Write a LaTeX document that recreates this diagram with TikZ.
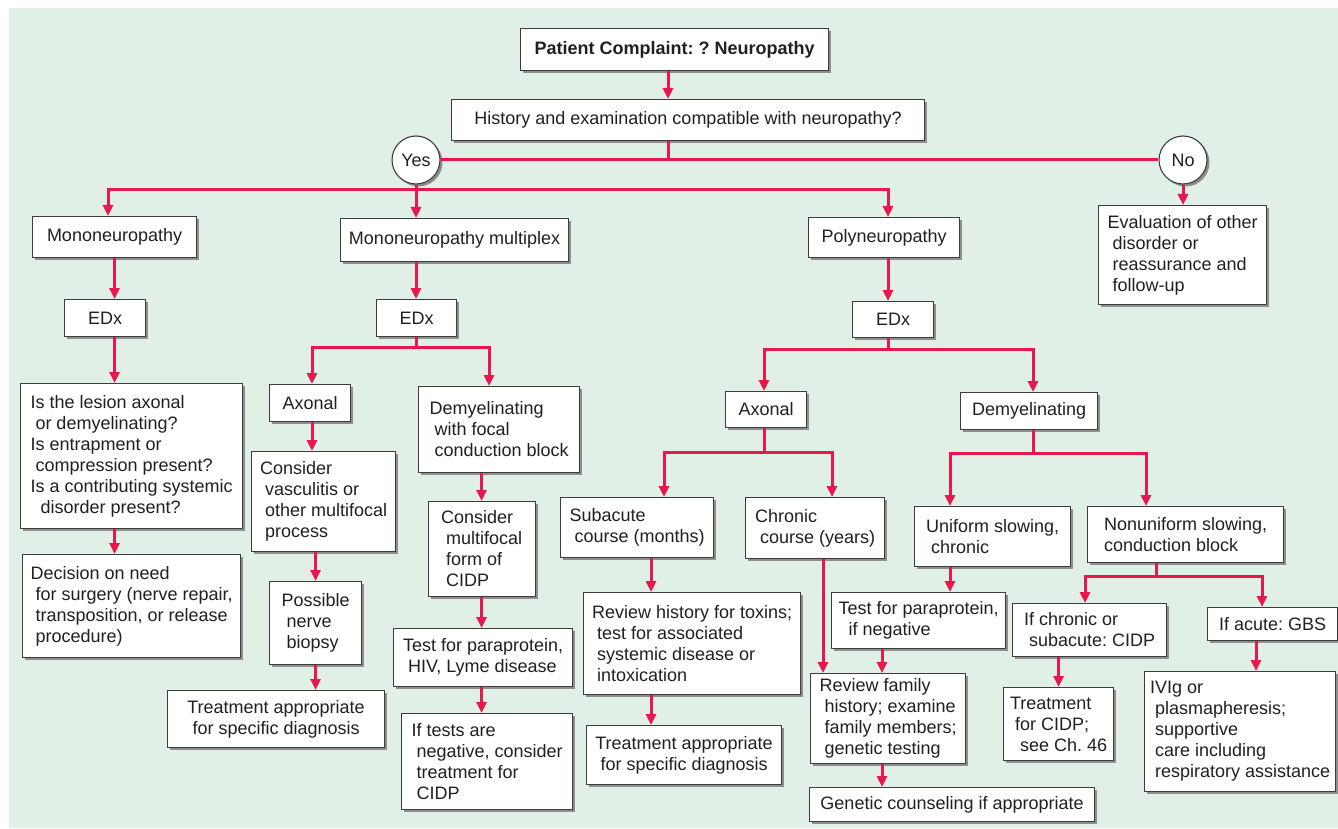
\documentclass[tikz,border=0pt]{standalone}
\usepackage{fontspec}
\setmainfont{Liberation Sans}
\usepackage{xcolor}
\definecolor{bgGreen}   {HTML}{E0F0E6}
\definecolor{linkRed}   {HTML}{E8174E}
\definecolor{boxLine}   {HTML}{3C3C3C}
\definecolor{shadowGray}{HTML}{8E8E8E}
\definecolor{inkDark}   {HTML}{231F20}
\usetikzlibrary{arrows.meta, positioning, calc, shadows}
\newcommand{\hg}{\hspace*{5pt}}
\frenchspacing
\tikzset{
    box/.style={draw=boxLine, fill=white, line width=1.1pt, anchor=north west,
                align=left, inner xsep=5pt, inner ysep=3pt, text=inkDark,
                font=\fontsize{18}{21}\selectfont,
                drop shadow={shadow xshift=2.5pt, shadow yshift=-2.5pt,
                             fill=shadowGray, opacity=1}},
    cbox/.style={box, align=center},
    wh/.style 2 args={minimum width=#1pt, minimum height=#2pt},
    answer/.style={circle, draw=boxLine, fill=white, line width=1.1pt,
                   minimum size=48pt, inner sep=0pt, text=inkDark,
                   font=\fontsize{18}{21}\selectfont,
                   drop shadow={shadow xshift=2.5pt, shadow yshift=-2.5pt,
                                fill=shadowGray, opacity=1}},
    wire/.style={draw=linkRed, line width=3pt},
    wirearr/.style={wire, ->, >={Triangle[length=11pt, width=10pt]}},
}

\begin{document}
\begin{tikzpicture}[x=1pt, y=-1pt]
    \useasboundingbox (0,0) rectangle (1338,829);
    \fill[bgGreen] (9,8) rectangle (1338,828);

    % top of the chart
    \node[cbox, wh={308}{42}, font=\fontsize{18}{21}\selectfont\bfseries] (top) at (520,28) {Patient Complaint: ? Neuropathy};
    \node[box, wh={473}{41}] (hist) at (451,99) {History and examination compatible with neuropathy?};
    \node[answer] (yes) at (416,160) {Yes};
    \node[answer] (no) at (1183,160) {No};
    \node[box, wh={168}{99}] (eval) at (1098,205) {Evaluation of other\\\hg disorder or\\\hg reassurance and\\\hg follow-up};

    % mononeuropathy
    \node[box, wh={164}{41}] (mono) at (32,216) {Mononeuropathy};
    \node[box, wh={81}{37}] (edxa) at (64,299) {EDx};
    \node[box, wh={222}{145}] (qa) at (20,383) {Is the lesion axonal\\\hg or demyelinating?\\Is entrapment or\\\hg compression present?\\Is a contributing systemic\\\hg\hg disorder present?};
    \node[box, wh={218}{103}] (deca) at (22,554) {Decision on need\\\hg for surgery (nerve repair,\\\hg transposition, or release\\\hg procedure)};

    % mononeuropathy multiplex
    \node[box, wh={228}{43}] (mult) at (340,218) {Mononeuropathy multiplex};
    \node[box, wh={80}{37}] (edxb) at (376,299) {EDx};
    \node[box, wh={81}{37}] (axb) at (269,384) {Axonal};
    \node[box, wh={144}{100}] (consb) at (251,451) {Consider\\\hg vasculitis or\\\hg other multifocal\\\hg process};
    \node[box, wh={92}{83}] (possb) at (269,581) {Possible\\\hg nerve\\\hg biopsy};
    \node[cbox, wh={217}{57}] (treatb) at (167,690) {Treatment appropriate\\for specific diagnosis};
    \node[box, wh={161}{86}] (demb) at (418,386) {Demyelinating\\\hg with focal\\\hg conduction block};
    \node[box, wh={107}{95}] (multb) at (427.5,501) {Consider\\\hg multifocal\\\hg form of\\\hg CIDP};
    \node[box, wh={179}{58}] (testb) at (393,628) {Test for paraprotein,\\\hg HIV, Lyme disease};
    \node[box, wh={171}{96}] (negb) at (401,713) {If tests are\\\hg negative, consider\\\hg treatment for\\\hg CIDP};

    % polyneuropathy
    \node[box, wh={151}{40}] (poly) at (808,217) {Polyneuropathy};
    \node[box, wh={81}{36}] (edxc) at (852,301) {EDx};
    \node[box, wh={81}{36}] (axc) at (725,391) {Axonal};
    \node[box, wh={137}{37}] (demc) at (960,392) {Demyelinating};
    \node[box, wh={153}{60}] (subc) at (560,497) {Subacute\\\hg course (months)};
    \node[box, wh={139}{61}] (chrc) at (745,497) {Chronic\\\hg course (years)};
    \node[box, wh={217}{102}] (revc) at (583,592) {Review history for toxins;\\\hg test for associated\\\hg systemic disease or\\\hg intoxication};
    \node[cbox, wh={195}{59}] (treatc) at (586,725) {Treatment appropriate\\for specific diagnosis};
    \node[box, wh={156}{60}] (unic) at (914,506) {Uniform slowing,\\\hg chronic};
    \node[box, wh={196}{56}] (nonc) at (1087,506) {Nonuniform slowing,\\conduction block};
    \node[box, wh={174}{56}] (testc) at (831,592) {Test for paraprotein,\\\hg\hg if negative};
    \node[box, wh={155}{90}] (famc) at (810,673) {Review family\\\hg history; examine\\\hg family members;\\\hg genetic testing};
    \node[box, wh={285}{34}] (genc) at (809,787) {Genetic counseling if appropriate};
    \node[box, wh={154}{53}] (chrd) at (1012,603) {If chronic or\\\hg subacute: CIDP};
    \node[box, wh={130}{33}] (acud) at (1207,607) {If acute: GBS};
    \node[box, wh={110}{73}] (cidpd) at (1003,687) {Treatment\\\hg for CIDP;\\\hg\hg see Ch. 46};
    \node[box, wh={191}{120}] (ivigd) at (1144,671) {IVIg or\\\hg plasmapheresis;\\\hg supportive\\\hg care including\\\hg respiratory assistance};

    % connectors: top
    \coordinate (k1) at (668,160);
    \draw[wirearr] (top.south -| k1) -- (hist.north -| k1);
    \draw[wire] (hist.south -| k1) -- (k1);
    \draw[wire] (yes) -- (no);
    \draw[wirearr] (no) -- (no |- eval.north);
    \coordinate (ya) at (108,190);
    \coordinate (yb) at (888,190);
    \draw[wirearr] (yes) -- (yes |- mult.north);
    \draw[wirearr] (ya -| yes) -- (ya) -- (ya |- mono.north);
    \draw[wirearr] (ya -| yes) -- (yb) -- (yb |- poly.north);

    % connectors: mononeuropathy
    \draw[wirearr] (mono) -- (mono |- edxa.north);
    \draw[wirearr] (mono |- edxa.south) -- (mono |- qa.north);
    \draw[wirearr] (mono |- qa.south) -- (mono |- deca.north);

    % connectors: multiplex
    \coordinate (ba) at (312,347);
    \coordinate (bb) at (489,347);
    \draw[wirearr] (mult.south -| yes) -- (edxb.north -| yes);
    \draw[wirearr] (edxb.south -| yes) -- (ba -| yes) -- (ba) -- (ba |- axb.north);
    \draw[wirearr] (ba -| yes) -- (bb) -- (bb |- demb.north);
    \draw[wirearr] (axb.south -| ba) -- (consb.north -| ba);
    \draw[wirearr] (consb.south -| possb) -- (possb.north);
    \draw[wirearr] (possb) -- (possb |- treatb.north);
    \draw[wirearr] (demb.south -| multb) -- (multb.north);
    \draw[wirearr] (multb) -- (multb |- testb.north);
    \draw[wirearr] (multb |- testb.south) -- (multb |- negb.north);

    % connectors: polyneuropathy
    \coordinate (ca) at (764,349);
    \coordinate (cb) at (1033,349);
    \coordinate (da) at (664,452);
    \coordinate (db) at (832,452);
    \coordinate (fa) at (950,453);
    \coordinate (fb) at (1146,453);
    \coordinate (ga) at (1085,576);
    \coordinate (gm) at (1156,576);
    \coordinate (gb) at (1262,576);
    \coordinate (sc) at (651,0);
    \coordinate (hc) at (823,0);
    \coordinate (tc) at (882,0);
    \coordinate (ic) at (1256,0);
    \draw[wirearr] (poly.south -| yb) -- (edxc.north -| yb);
    \draw[wirearr] (edxc.south -| yb) -- (ca -| yb) -- (ca) -- (ca |- axc.north);
    \draw[wirearr] (ca -| yb) -- (cb) -- (cb |- demc.north);
    \draw[wirearr] (axc.south -| ca) -- (da -| ca) -- (da) -- (da |- subc.north);
    \draw[wirearr] (da -| ca) -- (db) -- (db |- chrc.north);
    \draw[wirearr] (subc.south -| sc) -- (revc.north -| sc);
    \draw[wirearr] (revc.south -| sc) -- (treatc.north -| sc);
    \draw[wirearr] (chrc.south -| hc) -- (famc.north -| hc);
    \draw[wirearr] (demc.south -| cb) -- (fa -| cb) -- (fa) -- (fa |- unic.north);
    \draw[wirearr] (fa -| cb) -- (fb) -- (fb |- nonc.north);
    \draw[wirearr] (unic.south -| fa) -- (testc.north -| fa);
    \draw[wirearr] (testc.south -| tc) -- (famc.north -| tc);
    \draw[wirearr] (famc.south -| tc) -- (genc.north -| tc);
    \draw[wirearr] (nonc.south -| gm) -- (gm) -- (ga) -- (ga |- chrd.north);
    \draw[wirearr] (gm) -- (gb) -- (gb |- acud.north);
    \draw[wirearr] (chrd.south -| cidpd) -- (cidpd.north);
    \draw[wirearr] (acud.south -| ic) -- (ivigd.north -| ic);
\end{tikzpicture}
\end{document}
